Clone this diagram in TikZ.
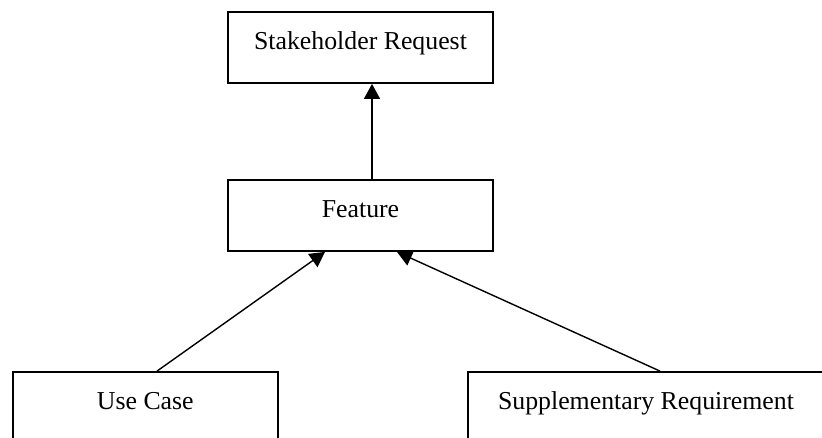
\documentclass[tikz,border=0pt]{standalone}
\usepackage{fontspec}
\setmainfont{Liberation Serif}
\usetikzlibrary{arrows.meta,calc}
\begin{document}
\begin{tikzpicture}[x=1pt,y=-1pt,
  box/.style={draw=black,line width=1.8pt,fill=white,rectangle,inner sep=0pt,
    minimum height=71pt,text height=14pt,text depth=10pt,
    font=\fontsize{25.8pt}{30pt}\selectfont},
  link/.style={draw=black,line width=1.4pt,-{Triangle[width=16pt,length=15pt]}}]
\useasboundingbox (0,0) rectangle (822,437);
\clip (0,0) rectangle (822,437);
\node[box,minimum width=265pt] (stake) at (360.5,47.5) {Stakeholder Request};
\node[box,minimum width=265pt] (feat) at (360.5,215.5) {Feature};
\node[box,minimum width=265pt] (uc) at (145.3,407.5) {Use Case};
\node[box,minimum width=356pt] (supp) at (646,407.5) {Supplementary Requirement};
\draw[link] ([xshift=11.5pt]feat.north) -- ([xshift=11.5pt]stake.south);
\draw[link] ([xshift=11.7pt]uc.north) -- ([xshift=-35.5pt]feat.south);
\draw[link] ([xshift=14pt]supp.north) -- ([xshift=36.5pt]feat.south);
\end{tikzpicture}
\end{document}
